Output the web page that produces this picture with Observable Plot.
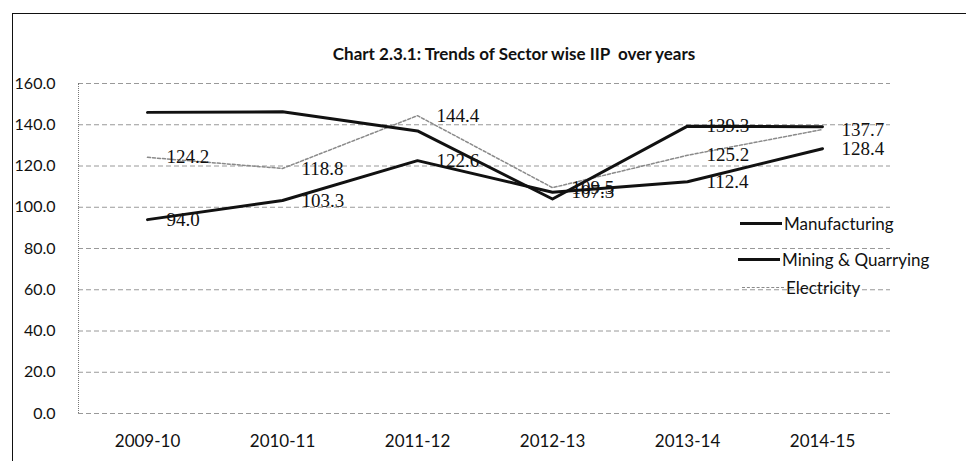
<!DOCTYPE html>
<html>
<head>
<meta charset="utf-8">
<script src="https://cdn.jsdelivr.net/npm/d3@7"></script>
<script src="https://cdn.jsdelivr.net/npm/@observablehq/plot@0.6"></script>
<style>
  html, body { margin: 0; padding: 0; background: #fff; }
  #wrap { position: relative; width: 966px; height: 461px; overflow: hidden; font-family: Lato, "Open Sans", sans-serif; }
  #border { position: absolute; left: 12px; top: 13px; width: 1000px; height: 500px; border-left: 1.5px solid #111; border-top: 1.5px solid #111; }
  #title { position: absolute; left: 0; width: 1028px; top: 43px; text-align: center; font-weight: bold; font-size: 17px; color: #111; }
  #chart { position: absolute; left: 0; top: 0; }
  #yline { position: absolute; left: 78px; top: 83px; height: 330px; border-left: 1px dotted #777; }
  .leg { position: absolute; font-size: 17px; color: #111; display: flex; align-items: center; }
  .leg .sw { display: inline-block; width: 42px; margin-right: 2px; }
</style>
</head>
<body>
<div id="wrap">
  <div id="border"></div>
  <div id="title">Chart 2.3.1: Trends of Sector wise IIP&nbsp; over years</div>
  <div id="chart"></div>
  <div id="yline"></div>
  <div id="legend"></div>
</div>
<script>
const years = ["2009-10", "2010-11", "2011-12", "2012-13", "2013-14", "2014-15"];
const manufacturing = [94.0, 103.3, 122.6, 107.3, 112.4, 128.4];
const mining = [146.0, 146.3, 137.0, 104.0, 139.3, 139.0];
const electricity = [124.2, 118.8, 144.4, 109.5, 125.2, 137.7];
const miningLabelShown = [false, false, false, false, true, false];
const yTicks = [0, 20, 40, 60, 80, 100, 120, 140, 160];
const seriesNames = ["Manufacturing", "Mining & Quarrying", "Electricity"];

const rows = (vals, name) => years.map((yr, i) => ({year: yr, value: vals[i], series: name}));
const mfgRows = rows(manufacturing, seriesNames[0]);
const minRows = rows(mining, seriesNames[1]);
const eleRows = rows(electricity, seriesNames[2]);
const labelRows = [
  ...eleRows,
  ...mfgRows,
  ...minRows.filter((d, i) => miningLabelShown[i])
];

const chart = Plot.plot({
  width: 966,
  height: 461,
  marginTop: 83,
  marginBottom: 48,
  marginLeft: 78,
  marginRight: 76,
  style: {fontFamily: "Lato, 'Open Sans', sans-serif", background: "transparent", color: "#111"},
  x: {type: "point", domain: years, padding: 0.5, label: null},
  y: {domain: [0, 160], label: null},
  marks: [
    Plot.ruleY(yTicks, {stroke: "#777", strokeWidth: 1, strokeDasharray: "5,3", strokeOpacity: 0.75}),
    Plot.axisY({ticks: yTicks, tickSize: 0, tickPadding: 23, fontSize: 16, tickFormat: d => d.toFixed(1), label: null}),
    Plot.axisX({tickSize: 0, tickPadding: 21, fontSize: 17, label: null}),
    Plot.line(eleRows, {x: "year", y: "value", stroke: "#8a8a8a", strokeWidth: 1.5, strokeDasharray: "3,2"}),
    Plot.line(mfgRows, {x: "year", y: "value", stroke: "#111", strokeWidth: 3}),
    Plot.line(minRows, {x: "year", y: "value", stroke: "#111", strokeWidth: 3}),
    Plot.text(labelRows, {x: "year", y: "value", text: d => d.value.toFixed(1), dx: 19, textAnchor: "start",
      fontFamily: "'Liberation Serif', 'DejaVu Serif', serif", fontSize: 19, fill: "#111"})
  ]
});
document.getElementById("chart").appendChild(chart);

// legend
const legendSpec = [
  {name: seriesNames[0], top: 213, left: 740, css: "border-top: 3px solid #111;"},
  {name: seriesNames[1], top: 249, left: 738, css: "border-top: 3px solid #111;"},
  {name: seriesNames[2], top: 277, left: 742, css: "border-top: 1.5px dashed #8a8a8a;"}
];
const lg = document.getElementById("legend");
for (const s of legendSpec) {
  const el = document.createElement("div");
  el.className = "leg";
  el.style.top = s.top + "px";
  el.style.left = s.left + "px";
  el.innerHTML = `<span class="sw" style="${s.css}"></span><span>${s.name}</span>`;
  lg.appendChild(el);
}
</script>
</body>
</html>
